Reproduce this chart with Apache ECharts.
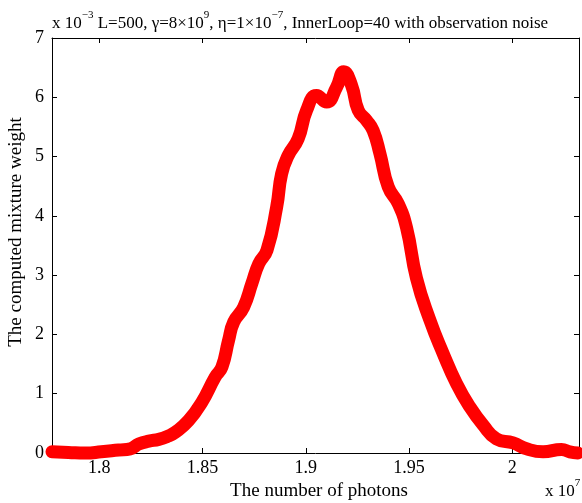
<!DOCTYPE html>
<html><head><meta charset="utf-8">
<script src="https://cdn.jsdelivr.net/npm/echarts@6/dist/echarts.min.js"></script>
<style>html,body{margin:0;padding:0;background:#fff}#c{width:582px;height:503px}</style>
</head><body><div id="c"></div>
<script>
// photons (x 10^7)
const photons = [1.7771,1.7850,1.7932,1.8010,1.8094,1.8150,1.8191,1.8240,1.8288,1.8330,1.8368,1.8433,1.8497,1.8561,1.8594,1.8626,1.8651,1.8699,1.8739,1.8772,1.8812,1.8859,1.8883,1.8915,1.8963,1.9004,1.9052,1.9101,1.9149,1.9184,1.9222,1.9254,1.9294,1.9326,1.9359,1.9399,1.9447,1.9488,1.9536,1.9601,1.9665,1.9730,1.9794,1.9859,1.9923,2.0004,2.0069,2.0149,2.0238,2.0278,2.0318];
// mixture weight (x 10^-3)
const weights = [0.02,0.01,0.00,0.02,0.05,0.07,0.15,0.20,0.23,0.28,0.35,0.55,0.86,1.28,1.45,1.90,2.21,2.46,2.86,3.19,3.42,4.15,4.71,5.02,5.30,5.78,6.03,5.92,6.17,6.43,6.20,5.78,5.61,5.44,5.05,4.49,4.21,3.80,2.95,2.24,1.68,1.17,0.78,0.47,0.24,0.17,0.07,0.02,0.06,0.02,0.00];
const xTicks = [1.8,1.85,1.9,1.95,2];
const xTickLabels = ['1.8','1.85','1.9','1.95','2'];
const xMin = 1.7771, xMax = 2.0323;
const yMin = 0, yMax = 7, yStep = 1;

const FONT = '"Liberation Serif","Times New Roman",serif';
const chart = echarts.init(document.getElementById('c'));
const axisLine = {show:true, onZero:false, lineStyle:{color:'#000', width:1}};
const tick = {show:true, inside:true, length:5, lineStyle:{color:'#000', width:1}};
const lbl = {color:'#000', fontFamily:FONT, fontSize:18};
chart.setOption({
  animation:false,
  grid:{left:52, right:3, top:38, bottom:50},
  xAxis:[{
    type:'value', min:xMin, max:xMax, position:'bottom',
    axisLine, axisTick:Object.assign({customValues:xTicks}, tick),
    axisLabel:Object.assign({customValues:xTicks, margin:6,
      formatter:v=>{const i=xTicks.findIndex(t=>Math.abs(t-v)<1e-9);return i>=0?xTickLabels[i]:'';}}, lbl),
    splitLine:{show:false}
  },{
    type:'value', min:xMin, max:xMax, position:'top',
    axisLine, axisTick:Object.assign({customValues:xTicks}, tick),
    axisLabel:{show:false}, splitLine:{show:false}
  }],
  yAxis:[{
    type:'value', min:yMin, max:yMax, interval:yStep, position:'left',
    axisLine, axisTick:tick, axisLabel:Object.assign({margin:8}, lbl), splitLine:{show:false}
  },{
    type:'value', min:yMin, max:yMax, interval:yStep, position:'right',
    axisLine, axisTick:tick, axisLabel:{show:false}, splitLine:{show:false}
  }],
  series:[{
    type:'line', data:photons.map((x,i)=>[x,weights[i]]),
    smooth:0.5, showSymbol:false, clip:false,
    lineStyle:{color:'#ff0000', width:13, cap:'round', join:'round'}
  }],
  graphic:[
    {type:'text', left:52, top:10, style:{
      text:'{n|x 10}{s|−3}{n| L=500, γ=8×10}{s|9}{n|, η=1×10}{s|−7}{n|, InnerLoop=40 with observation noise}',
      fill:'#000', font:'17px '+FONT,
      rich:{n:{fontFamily:FONT, fontSize:17, fill:'#000', verticalAlign:'bottom', lineHeight:22},
            s:{fontFamily:FONT, fontSize:11, fill:'#000', verticalAlign:'top', lineHeight:22}}
    }},
    {type:'text', x:319, y:491, style:{text:'The number of photons', fill:'#000', font:'19px '+FONT, align:'center', verticalAlign:'middle'}},
    {type:'text', x:16, y:232, rotation:Math.PI/2, style:{text:'The computed mixture weight', fill:'#000', font:'19px '+FONT, align:'center', verticalAlign:'middle'}},
    {type:'text', left:545, top:478, style:{
      text:'{n|x 10}{s|7}', fill:'#000', font:'17px '+FONT,
      rich:{n:{fontFamily:FONT, fontSize:17, fill:'#000', verticalAlign:'bottom', lineHeight:22},
            s:{fontFamily:FONT, fontSize:11, fill:'#000', verticalAlign:'top', lineHeight:22}}
    }}
  ]
});
</script></body></html>
